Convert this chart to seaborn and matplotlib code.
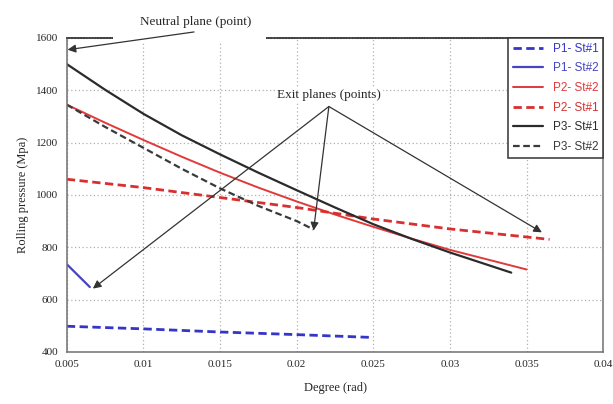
import matplotlib
matplotlib.use("Agg")
import matplotlib.pyplot as plt
from matplotlib.patches import Rectangle
import matplotlib.transforms as mtransforms
import seaborn as sns
import pandas as pd

# ---- data ----
p1_st1_x = [0.005, 0.010, 0.015, 0.020, 0.025]
p1_st1_y = [498, 488, 476, 466, 455]

p1_st2_x = [0.005, 0.0065]
p1_st2_y = [735, 648]

p2_st2_x = [0.005, 0.0075, 0.010, 0.0125, 0.015, 0.0175, 0.020, 0.0225, 0.025, 0.0275, 0.030, 0.035]
p2_st2_y = [1345, 1276, 1210, 1146, 1085, 1028, 975, 925, 878, 833, 790, 715]

p2_st1_x = [0.005, 0.010, 0.015, 0.020, 0.025, 0.030, 0.0365]
p2_st1_y = [1060, 1028, 990, 952, 908, 870, 830]

p3_st1_x = [0.005, 0.0075, 0.010, 0.0125, 0.015, 0.0175, 0.020, 0.0225, 0.025, 0.0275, 0.030, 0.034]
p3_st1_y = [1500, 1402, 1310, 1228, 1155, 1085, 1018, 952, 888, 832, 780, 703]

p3_st2_x = [0.005, 0.0075, 0.010, 0.0125, 0.015, 0.0175, 0.020, 0.0211]
p3_st2_y = [1345, 1260, 1180, 1100, 1025, 958, 900, 868]

x_ticks = [0.005, 0.01, 0.015, 0.02, 0.025, 0.03, 0.035, 0.04]
x_tick_labels = ["0.005", "0.01", "0.015", "0.02", "0.025", "0.03", "0.035", "0.04"]
y_ticks = [400, 600, 800, 1000, 1200, 1400, 1600]

series = [
    ("P1- St#1", p1_st1_x, p1_st1_y, "#3535c8", (3, 1.6), 2.0),
    ("P1- St#2", p1_st2_x, p1_st2_y, "#4545c0", None, 1.6),
    ("P2- St#2", p2_st2_x, p2_st2_y, "#e03a3a", None, 1.4),
    ("P2- St#1", p2_st1_x, p2_st1_y, "#d83030", (3, 1.6), 2.0),
    ("P3- St#1", p3_st1_x, p3_st1_y, "#2b2b2b", None, 1.6),
    ("P3- St#2", p3_st2_x, p3_st2_y, "#3a3a3a", (3, 1.6), 1.6),
]

sns.set_style("white")
plt.rcParams["font.family"] = ["Liberation Serif", "DejaVu Serif"]

fig = plt.figure(figsize=(6.13, 4.04), dpi=100)
ax = fig.add_axes([0.109, 0.129, 0.875, 0.777])

for name, xs, ys, col, dash, lw in series:
    df = pd.DataFrame({"x": xs, "y": ys})
    sns.lineplot(data=df, x="x", y="y", ax=ax, sort=False,
                 color=col, linewidth=lw, label=name)
    if dash is not None:
        ax.lines[-1].set_dashes(dash)

ax.set_xlim(0.005, 0.04)
ax.set_ylim(400, 1600)
ax.set_xticks(x_ticks)
ax.set_xticklabels(x_tick_labels)
ax.set_yticks(y_ticks)
ax.tick_params(axis="both", labelsize=8, length=3, color="#888888", direction="in", pad=6)
ax.grid(True, linestyle=(0, (1, 2)), color="#b0b0b0", linewidth=0.9)
ax.set_xlabel("Degree (rad)", fontsize=9, labelpad=9)
ax.set_ylabel("Rolling pressure (Mpa)", fontsize=9, labelpad=5)
for s in ["left", "bottom", "right"]:
    ax.spines[s].set_color("#707070")
    ax.spines[s].set_linewidth(1.1)
ax.spines["top"].set_color("#404040")
ax.spines["top"].set_linestyle((0, (1, 0.6)))
ax.spines["top"].set_linewidth(1.3)

leg = ax.legend(loc="upper right", frameon=True, fancybox=False,
                edgecolor="#333333", framealpha=1, handlelength=2.6,
                borderaxespad=0.0, labelspacing=0.65,
                prop={"family": ["Liberation Sans", "DejaVu Sans"], "size": 8.5})
leg.get_frame().set_linewidth(1.1)
for txt, (_, _, _, col, _, _) in zip(leg.get_texts(), series):
    txt.set_color(col)

# white gap in top border behind the neutral-plane label
trans = mtransforms.blended_transform_factory(ax.transData, ax.transAxes)
ax.add_patch(Rectangle((0.0080, 0.985), 0.0100, 0.04, transform=trans,
                       facecolor="white", edgecolor="none", clip_on=False, zorder=2.6))

arrow = dict(arrowstyle="-|>", color="#333333", lw=0.9, mutation_scale=12,
             shrinkA=0, shrinkB=0)

# Neutral plane annotation
ax.annotate("", xy=(0.00505, 1555), xytext=(0.0133, 1623),
            arrowprops=arrow, annotation_clip=False, zorder=3)
ax.text(0.0134, 1661, "Neutral plane (point)", fontsize=9.5, ha="center",
        va="center", clip_on=False)

# Exit planes annotation
origin = (0.0221, 1338)
ax.text(0.0221, 1383, "Exit planes (points)", fontsize=9.5, ha="center",
        va="center", bbox=dict(facecolor="white", edgecolor="none", pad=1.5))
ax.annotate("", xy=(0.0067, 642), xytext=origin, arrowprops=arrow)
ax.annotate("", xy=(0.0211, 864), xytext=origin, arrowprops=arrow)
ax.annotate("", xy=(0.0360, 857), xytext=origin, arrowprops=arrow)

fig.savefig("out.png", dpi=100)
